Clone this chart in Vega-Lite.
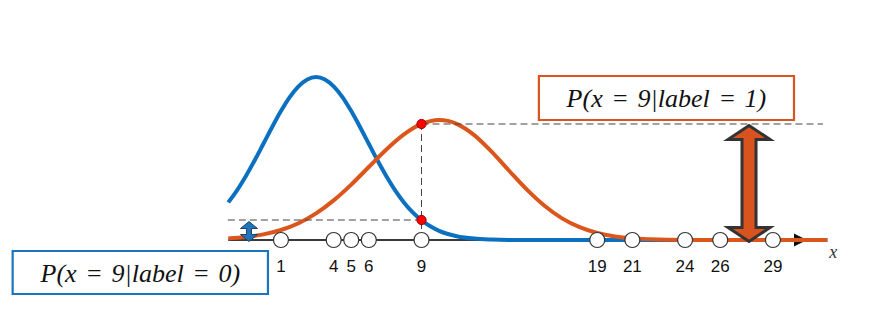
{
  "$schema": "https://vega.github.io/schema/vega-lite/v6.json",
  "width": 875,
  "height": 317,
  "autosize": {"type": "fit", "contains": "padding"},
  "padding": 0,
  "background": "white",
  "config": {"view": {"stroke": null}},
  "datasets": {
    "curves": [
      {"series": "label0", "x": -2, "h": 37.6}, {"series": "label0", "x": -1.5, "h": 49.7}, {"series": "label0", "x": -1, "h": 63.8},
      {"series": "label0", "x": -0.5, "h": 79.5}, {"series": "label0", "x": 0, "h": 96.2}, {"series": "label0", "x": 0.5, "h": 113.0},
      {"series": "label0", "x": 1, "h": 128.9}, {"series": "label0", "x": 1.5, "h": 142.9}, {"series": "label0", "x": 2, "h": 153.7},
      {"series": "label0", "x": 2.5, "h": 160.6}, {"series": "label0", "x": 3, "h": 163}, {"series": "label0", "x": 3.5, "h": 160.6},
      {"series": "label0", "x": 4, "h": 153.7}, {"series": "label0", "x": 4.5, "h": 142.9}, {"series": "label0", "x": 5, "h": 128.9},
      {"series": "label0", "x": 5.5, "h": 113.0}, {"series": "label0", "x": 6, "h": 96.2}, {"series": "label0", "x": 6.5, "h": 79.5},
      {"series": "label0", "x": 7, "h": 63.8}, {"series": "label0", "x": 7.5, "h": 49.7}, {"series": "label0", "x": 8, "h": 37.6},
      {"series": "label0", "x": 8.5, "h": 27.6}, {"series": "label0", "x": 9, "h": 19.7}, {"series": "label0", "x": 9.5, "h": 13.7},
      {"series": "label0", "x": 10, "h": 9.2}, {"series": "label0", "x": 10.5, "h": 6.0}, {"series": "label0", "x": 11, "h": 3.8},
      {"series": "label0", "x": 12, "h": 1.4}, {"series": "label0", "x": 13, "h": 0.5}, {"series": "label0", "x": 14, "h": 0.1},
      {"series": "label0", "x": 15, "h": 0}, {"series": "label0", "x": 20, "h": 0}, {"series": "label0", "x": 25, "h": 0},
      {"series": "label0", "x": 32.1, "h": 0},
      {"series": "label1", "x": -2, "h": 1.5}, {"series": "label1", "x": -1, "h": 3.0}, {"series": "label1", "x": 0, "h": 5.6},
      {"series": "label1", "x": 1, "h": 10.0}, {"series": "label1", "x": 2, "h": 16.8}, {"series": "label1", "x": 3, "h": 26.6},
      {"series": "label1", "x": 4, "h": 39.6}, {"series": "label1", "x": 5, "h": 55.4}, {"series": "label1", "x": 6, "h": 73.0},
      {"series": "label1", "x": 7, "h": 90.5}, {"series": "label1", "x": 8, "h": 105.6}, {"series": "label1", "x": 9, "h": 116.1},
      {"series": "label1", "x": 9.5, "h": 118.9}, {"series": "label1", "x": 10, "h": 120}, {"series": "label1", "x": 10.5, "h": 119.1},
      {"series": "label1", "x": 11, "h": 116.2}, {"series": "label1", "x": 12, "h": 104.9}, {"series": "label1", "x": 13, "h": 88.1},
      {"series": "label1", "x": 14, "h": 69.0}, {"series": "label1", "x": 15, "h": 50.3}, {"series": "label1", "x": 16, "h": 34.2},
      {"series": "label1", "x": 17, "h": 21.6}, {"series": "label1", "x": 18, "h": 12.8}, {"series": "label1", "x": 19, "h": 7.0},
      {"series": "label1", "x": 20, "h": 3.6}, {"series": "label1", "x": 21, "h": 1.7}, {"series": "label1", "x": 22, "h": 0.8},
      {"series": "label1", "x": 23, "h": 0.3}, {"series": "label1", "x": 24, "h": 0.1}, {"series": "label1", "x": 25, "h": 0},
      {"series": "label1", "x": 32.1, "h": 0}
    ],
    "axisline": [{"x": -2, "h": 0}, {"x": 30.3, "h": 0}],
    "axisarrow": [{"x": 30.57, "h": 0}],
    "samples": [
      {"x": 1, "label": "1"}, {"x": 4, "label": "4"}, {"x": 5, "label": "5"}, {"x": 6, "label": "6"}, {"x": 9, "label": "9"},
      {"x": 19, "label": "19"}, {"x": 21, "label": "21"}, {"x": 24, "label": "24"}, {"x": 26, "label": "26"}, {"x": 29, "label": "29"}
    ],
    "guides": [
      {"x1": 9, "h1": 0, "x2": 9, "h2": 116},
      {"x1": 9, "h1": 116, "x2": 31.85, "h2": 116},
      {"x1": -2.02, "h1": 20, "x2": 9, "h2": 20}
    ],
    "dots": [{"x": 9, "h": 116}, {"x": 9, "h": 20}],
    "bigarrow": [{"x": 27.64, "h": 56.5}],
    "smallarrow": [{"x": -0.82, "h": 8.5}],
    "boxes": [
      {"box": "label0", "x1": -14.27, "x2": 0.26, "h1": -11, "h2": -54, "cx": -7.0, "cy": -32.5, "text": "P(x\u2004=\u20049|label\u2004=\u20040)"},
      {"box": "label1", "x1": 15.68, "x2": 30.2, "h1": 164, "h2": 120, "cx": 22.94, "cy": 142, "text": "P(x\u2004=\u20049|label\u2004=\u20041)"}
    ],
    "axislabel": [{"x": 32.43, "h": -13.3, "text": "x"}]
  },
  "resolve": {"scale": {"x": "shared", "y": "shared"}},
  "encoding": {
    "x": {"type": "quantitative", "scale": {"domain": [-14.99, 34.81], "nice": false, "zero": false}, "axis": null},
    "y": {"type": "quantitative", "scale": {"domain": [-77, 240], "nice": false, "zero": false}, "axis": null}
  },
  "layer": [
    {
      "data": {"name": "boxes"},
      "mark": {"type": "rect", "fill": "white", "strokeWidth": 2.2},
      "encoding": {
        "x": {"field": "x1", "type": "quantitative"},
        "x2": {"field": "x2"},
        "y": {"field": "h1", "type": "quantitative"},
        "y2": {"field": "h2"},
        "stroke": {"field": "box", "type": "nominal", "scale": {"domain": ["label0", "label1"], "range": ["#1B75BC", "#D9541E"]}, "legend": null}
      }
    },
    {
      "data": {"name": "boxes"},
      "mark": {"type": "text", "font": "Liberation Serif", "fontStyle": "italic", "fontSize": 26, "color": "#111111", "align": "center", "baseline": "middle", "dy": 1},
      "encoding": {
        "x": {"field": "cx", "type": "quantitative"},
        "y": {"field": "cy", "type": "quantitative"},
        "text": {"field": "text"}
      }
    },
    {
      "data": {"name": "axisline"},
      "mark": {"type": "line", "color": "#3A3A3A", "strokeWidth": 2},
      "encoding": {
        "x": {"field": "x", "type": "quantitative"},
        "y": {"field": "h", "type": "quantitative"}
      }
    },
    {
      "data": {"name": "axisarrow"},
      "mark": {"type": "point", "shape": "M-1,-1L1,0L-1,1Z", "size": 169, "filled": true, "fill": "#111111", "stroke": null, "opacity": 1},
      "encoding": {
        "x": {"field": "x", "type": "quantitative"},
        "y": {"field": "h", "type": "quantitative"}
      }
    },
    {
      "data": {"name": "curves"},
      "transform": [{"filter": "datum.series === 'label0'"}],
      "mark": {"type": "line", "color": "#0A70BF", "strokeWidth": 4, "interpolate": "monotone"},
      "encoding": {
        "x": {"field": "x", "type": "quantitative"},
        "y": {"field": "h", "type": "quantitative"}
      }
    },
    {
      "data": {"name": "curves"},
      "transform": [{"filter": "datum.series === 'label1'"}],
      "mark": {"type": "line", "color": "#DA561C", "strokeWidth": 4, "interpolate": "monotone"},
      "encoding": {
        "x": {"field": "x", "type": "quantitative"},
        "y": {"field": "h", "type": "quantitative"}
      }
    },
    {
      "data": {"name": "guides"},
      "mark": {"type": "rule", "color": "#444444", "strokeWidth": 1, "strokeDash": [7, 4]},
      "encoding": {
        "x": {"field": "x1", "type": "quantitative"},
        "x2": {"field": "x2"},
        "y": {"field": "h1", "type": "quantitative"},
        "y2": {"field": "h2"}
      }
    },
    {
      "data": {"name": "samples"},
      "mark": {"type": "point", "shape": "circle", "size": 225, "filled": true, "fill": "white", "stroke": "#333333", "strokeWidth": 1.2, "opacity": 1},
      "encoding": {
        "x": {"field": "x", "type": "quantitative"},
        "y": {"datum": 0, "type": "quantitative"}
      }
    },
    {
      "data": {"name": "samples"},
      "mark": {"type": "text", "font": "Liberation Sans", "fontSize": 17, "color": "#111111", "align": "center", "baseline": "middle"},
      "encoding": {
        "x": {"field": "x", "type": "quantitative"},
        "y": {"datum": -27, "type": "quantitative"},
        "text": {"field": "label"}
      }
    },
    {
      "data": {"name": "dots"},
      "mark": {"type": "point", "shape": "circle", "size": 85, "filled": true, "fill": "#FF0000", "stroke": "#9A0000", "strokeWidth": 1, "opacity": 1},
      "encoding": {
        "x": {"field": "x", "type": "quantitative"},
        "y": {"field": "h", "type": "quantitative"}
      }
    },
    {
      "data": {"name": "bigarrow"},
      "mark": {"type": "point", "shape": "M0,-1L0.362,-0.759L0.121,-0.759L0.121,0.759L0.362,0.759L0,1L-0.362,0.759L-0.121,0.759L-0.121,-0.759L-0.362,-0.759Z", "size": 13456, "filled": true, "fill": "#D9531E", "stroke": "#333333", "strokeWidth": 3, "opacity": 1},
      "encoding": {
        "x": {"field": "x", "type": "quantitative"},
        "y": {"field": "h", "type": "quantitative"}
      }
    },
    {
      "data": {"name": "smallarrow"},
      "mark": {"type": "point", "shape": "M0,-1L0.85,-0.3L0.25,-0.3L0.25,0.3L0.85,0.3L0,1L-0.85,0.3L-0.25,0.3L-0.25,-0.3L-0.85,-0.3Z", "size": 400, "filled": true, "fill": "#1F74BD", "stroke": "#24415E", "strokeWidth": 1, "opacity": 1},
      "encoding": {
        "x": {"field": "x", "type": "quantitative"},
        "y": {"field": "h", "type": "quantitative"}
      }
    },
    {
      "data": {"name": "axislabel"},
      "mark": {"type": "text", "font": "Liberation Serif", "fontStyle": "italic", "fontSize": 18, "color": "#333333", "align": "center", "baseline": "middle"},
      "encoding": {
        "x": {"field": "x", "type": "quantitative"},
        "y": {"field": "h", "type": "quantitative"},
        "text": {"field": "text"}
      }
    }
  ]
}
